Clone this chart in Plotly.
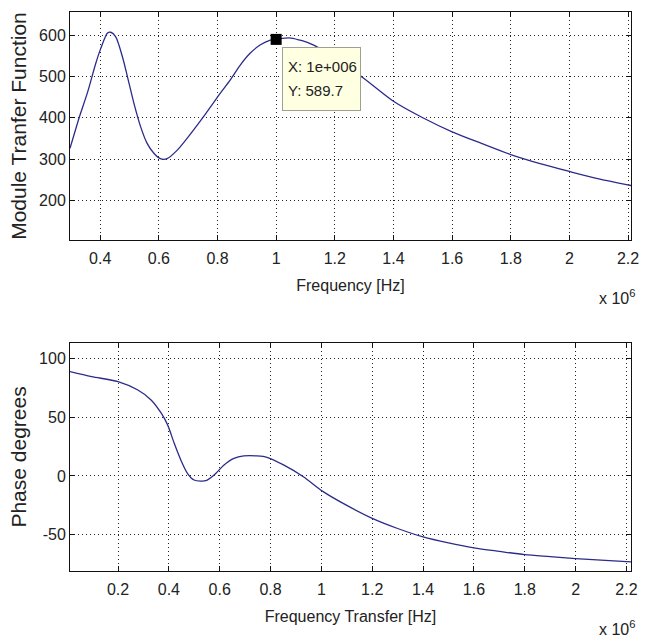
import plotly.graph_objects as go

# Frequency values in units of 1e6 Hz
mod_freq = [0.297, 0.312, 0.329, 0.357, 0.385, 0.402, 0.425, 0.436, 0.453, 0.476, 0.493, 0.515,
            0.538, 0.560, 0.583, 0.605, 0.628, 0.662, 0.696, 0.741, 0.775, 0.809, 0.843, 0.877,
            0.911, 0.945, 0.980, 1.000, 1.050, 1.128, 1.200, 1.285, 1.400, 1.500, 1.600, 1.700,
            1.800, 1.900, 2.000, 2.100, 2.210]
mod_val = [326, 362, 402, 462, 532, 568, 605, 607, 596, 547, 499, 435,
           378, 338, 314, 301, 301, 321, 350, 392, 425, 459, 491, 527,
           556, 576, 588, 589.7, 593, 576, 543, 503, 440, 400, 366, 338,
           311, 289, 270, 252, 236]

ph_freq = [0.011, 0.096, 0.200, 0.278, 0.330, 0.370, 0.395, 0.421, 0.447, 0.473, 0.499, 0.525,
           0.545, 0.578, 0.617, 0.656, 0.695, 0.747, 0.786, 0.851, 0.929, 1.007, 1.100, 1.200,
           1.300, 1.400, 1.500, 1.600, 1.700, 1.800, 1.900, 2.000, 2.100, 2.218]
ph_val = [88.6, 84.4, 80.1, 73, 64.6, 53.3, 43.4, 27.8, 13.6, 2.3, -3.4, -4.3,
          -4, 0.9, 9.4, 15, 17, 17, 15.9, 9.4, -0.6, -13.3, -25, -36,
          -44.6, -51.7, -56.8, -61, -64, -66.8, -68.5, -70.2, -71.5, -73]

top_xticks = [0.4, 0.6, 0.8, 1.0, 1.2, 1.4, 1.6, 1.8, 2.0, 2.2]
top_xlabels = ["0.4", "0.6", "0.8", "1", "1.2", "1.4", "1.6", "1.8", "2", "2.2"]
top_yticks = [200, 300, 400, 500, 600]
top_ylabels = ["200", "300", "400", "500", "600"]
bot_xticks = [0.2, 0.4, 0.6, 0.8, 1.0, 1.2, 1.4, 1.6, 1.8, 2.0, 2.2]
bot_xlabels = ["0.2", "0.4", "0.6", "0.8", "1", "1.2", "1.4", "1.6", "1.8", "2", "2.2"]
bot_yticks = [-50, 0, 50, 100]
bot_ylabels = ["-50", "0", "50", "100"]

tip_x = 1.0
tip_y = 589.7
tip_text_x = "X: 1e+006"
tip_text_y = "Y: 589.7"

LINE = "#2b2b8a"
FAM = "Liberation Sans, Arial, sans-serif"
TICKFONT = dict(family=FAM, size=16, color="#222")
TITLEFONT_X = dict(family=FAM, size=16, color="#222")
TITLEFONT_Y = dict(family=FAM, size=21, color="#222")

fig = go.Figure()
fig.add_trace(go.Scatter(x=mod_freq, y=mod_val, mode="lines",
                         line=dict(color=LINE, width=1.3, shape="spline", smoothing=0.8),
                         xaxis="x", yaxis="y", showlegend=False, hoverinfo="skip"))
fig.add_trace(go.Scatter(x=[tip_x], y=[tip_y], mode="markers",
                         marker=dict(symbol="square", size=11, color="black"),
                         xaxis="x", yaxis="y", showlegend=False, hoverinfo="skip"))
fig.add_trace(go.Scatter(x=ph_freq, y=ph_val, mode="lines",
                         line=dict(color=LINE, width=1.3, shape="spline", smoothing=0.8),
                         xaxis="x2", yaxis="y2", showlegend=False, hoverinfo="skip"))

common_axis = dict(showline=True, linecolor="#111", linewidth=1, mirror="ticks", ticks="inside",
                   ticklen=5, tickcolor="#111", showgrid=True, gridcolor="#222", griddash="1px,3px",
                   gridwidth=1, zeroline=False, tickfont=TICKFONT, ticklabeloverflow="allow")

fig.update_layout(
    width=646, height=640,
    margin=dict(l=70, r=7, t=12, b=69),
    paper_bgcolor="white", plot_bgcolor="white",
    xaxis=dict(domain=[0, 1], range=[0.297, 2.21], tickvals=top_xticks, ticktext=top_xlabels,
               anchor="y", ticklabelstandoff=4,
               title=dict(text="Frequency [Hz]", font=TITLEFONT_X, standoff=13), **common_axis),
    yaxis=dict(domain=[0.592, 1], range=[104, 656], tickvals=top_yticks, ticktext=top_ylabels,
               anchor="x", title=dict(text="Module Tranfer Function", font=TITLEFONT_Y, standoff=6),
               **common_axis),
    xaxis2=dict(domain=[0, 1], range=[0.011, 2.218], tickvals=bot_xticks, ticktext=bot_xlabels,
                anchor="y2", ticklabelstandoff=4,
                title=dict(text="Frequency Transfer [Hz]", font=TITLEFONT_X, standoff=13), **common_axis),
    yaxis2=dict(domain=[0, 0.408], range=[-80.7, 113], tickvals=bot_yticks, ticktext=bot_ylabels,
                anchor="x2", title=dict(text="Phase degrees", font=TITLEFONT_Y, standoff=6),
                **common_axis),
)

# data tip box
fig.add_annotation(x=tip_x, y=tip_y, xref="x", yref="y", xanchor="left", yanchor="top",
                   xshift=6, yshift=-8, showarrow=False, text="", width=77, height=62,
                   bgcolor="#ffffe1", bordercolor="#a0a090", borderwidth=1, borderpad=0)
fig.add_annotation(x=tip_x, y=tip_y, xref="x", yref="y", xanchor="left", yanchor="middle",
                   xshift=10, yshift=-27, showarrow=False, text=tip_text_x,
                   font=dict(family=FAM, size=15, color="#222"))
fig.add_annotation(x=tip_x, y=tip_y, xref="x", yref="y", xanchor="left", yanchor="middle",
                   xshift=10, yshift=-51, showarrow=False, text=tip_text_y,
                   font=dict(family=FAM, size=15, color="#222"))

# exponent labels
for xr, yr in [("x domain", "y domain"), ("x2 domain", "y2 domain")]:
    fig.add_annotation(x=1, y=0, xref=xr, yref=yr, xanchor="right", yanchor="top",
                       xshift=6, yshift=-45, showarrow=False, text="x 10<sup>6</sup>",
                       font=dict(family=FAM, size=16, color="#222"))

fig.write_html("out.html")
